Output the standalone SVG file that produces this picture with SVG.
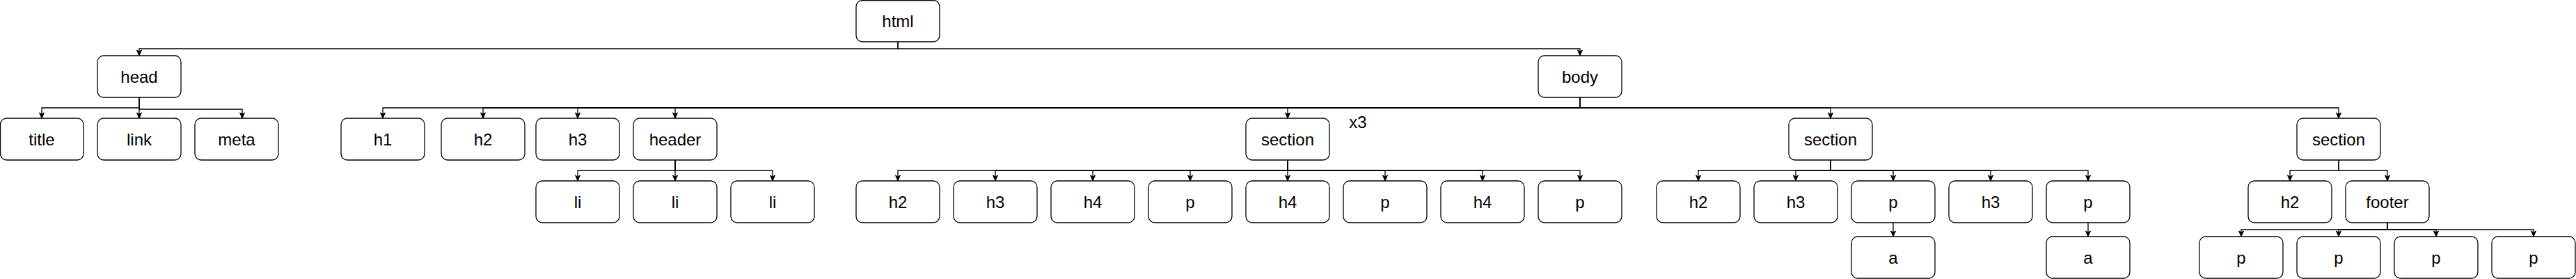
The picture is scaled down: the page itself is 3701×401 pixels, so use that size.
<svg xmlns="http://www.w3.org/2000/svg" width="3701" height="401" viewBox="0 0 3701 401">
<style>
.n rect{fill:#fff;stroke:#000;stroke-width:1.3}
.n text,.t{font-family:"Liberation Sans",Arial,sans-serif;font-size:24px;fill:#000;text-anchor:middle}
#edges path{fill:none;stroke:#000;stroke-width:1.3;marker-end:url(#arr)}
</style>
<defs>
<marker id="arr" viewBox="-9 -5 10 10" refX="0" refY="0" markerWidth="10" markerHeight="10" markerUnits="userSpaceOnUse" orient="auto">
<path d="M0,0 L-8,-3.5 L-6,0 L-8,3.5 Z" fill="#000" stroke="#000" stroke-width="1"/>
</marker>
</defs>
<rect width="3701" height="401" fill="#fff"/>
<g id="edges">
<path d="M1290,60 V70 H200 V80"/>
<path d="M1290,60 V70 H2270 V80"/>
<path d="M200,140 V155 H60 V170"/>
<path d="M200,140 V170"/>
<path d="M200,140 V157 H348 V170"/>
<path d="M2270,140 V155 H550 V170"/>
<path d="M2270,140 V155 H694 V170"/>
<path d="M2270,140 V155 H830 V170"/>
<path d="M2270,140 V155 H970 V170"/>
<path d="M2270,140 V155 H1850 V170"/>
<path d="M2270,140 V155 H2630 V170"/>
<path d="M2270,140 V155 H3360 V170"/>
<path d="M970,230 V245 H830 V260"/>
<path d="M970,230 V260"/>
<path d="M970,230 V245 H1110 V260"/>
<path d="M1850,230 V245 H1290 V260"/>
<path d="M1850,230 V245 H1430 V260"/>
<path d="M1850,230 V245 H1570 V260"/>
<path d="M1850,230 V245 H1710 V260"/>
<path d="M1850,230 V260"/>
<path d="M1850,230 V245 H1990 V260"/>
<path d="M1850,230 V245 H2130 V260"/>
<path d="M1850,230 V245 H2270 V260"/>
<path d="M2630,230 V245 H2440 V260"/>
<path d="M2630,230 V245 H2580 V260"/>
<path d="M2630,230 V245 H2720 V260"/>
<path d="M2630,230 V245 H2860 V260"/>
<path d="M2630,230 V245 H3000 V260"/>
<path d="M2720,320 V340"/>
<path d="M3000,320 V340"/>
<path d="M3360,230 V245 H3290 V260"/>
<path d="M3360,230 V245 H3430 V260"/>
<path d="M3430,320 V330 H3220 V340"/>
<path d="M3430,320 V330 H3360 V340"/>
<path d="M3430,320 V330 H3500 V340"/>
<path d="M3430,320 V330 H3640 V340"/>
</g>
<g id="html" class="n"><rect x="1230" y="0.5" width="120" height="59.5" rx="9"/><text x="1290" y="38.5">html</text></g>
<g id="head" class="n"><rect x="140" y="80" width="120" height="60" rx="9"/><text x="200" y="118.5">head</text></g>
<g id="body" class="n"><rect x="2210" y="80" width="120" height="60" rx="9"/><text x="2270" y="118.5">body</text></g>
<g id="title" class="n"><rect x="0.5" y="170" width="119.5" height="60" rx="9"/><text x="60" y="208.5">title</text></g>
<g id="link" class="n"><rect x="140" y="170" width="120" height="60" rx="9"/><text x="200" y="208.5">link</text></g>
<g id="meta" class="n"><rect x="280" y="170" width="120" height="60" rx="9"/><text x="340" y="208.5">meta</text></g>
<g id="h1" class="n"><rect x="490" y="170" width="120" height="60" rx="9"/><text x="550" y="208.5">h1</text></g>
<g id="h2" class="n"><rect x="634" y="170" width="120" height="60" rx="9"/><text x="694" y="208.5">h2</text></g>
<g id="h3" class="n"><rect x="770" y="170" width="120" height="60" rx="9"/><text x="830" y="208.5">h3</text></g>
<g id="header" class="n"><rect x="910" y="170" width="120" height="60" rx="9"/><text x="970" y="208.5">header</text></g>
<g id="li1" class="n"><rect x="770" y="260" width="120" height="60" rx="9"/><text x="830" y="298.5">li</text></g>
<g id="li2" class="n"><rect x="910" y="260" width="120" height="60" rx="9"/><text x="970" y="298.5">li</text></g>
<g id="li3" class="n"><rect x="1050" y="260" width="120" height="60" rx="9"/><text x="1110" y="298.5">li</text></g>
<g id="section1" class="n"><rect x="1790" y="170" width="120" height="60" rx="9"/><text x="1850" y="208.5">section</text></g>
<text id="x3" class="t" x="1951" y="184">x3</text>
<g id="s1-h2" class="n"><rect x="1230" y="260" width="120" height="60" rx="9"/><text x="1290" y="298.5">h2</text></g>
<g id="s1-h3" class="n"><rect x="1370" y="260" width="120" height="60" rx="9"/><text x="1430" y="298.5">h3</text></g>
<g id="s1-h4a" class="n"><rect x="1510" y="260" width="120" height="60" rx="9"/><text x="1570" y="298.5">h4</text></g>
<g id="s1-pa" class="n"><rect x="1650" y="260" width="120" height="60" rx="9"/><text x="1710" y="298.5">p</text></g>
<g id="s1-h4b" class="n"><rect x="1790" y="260" width="120" height="60" rx="9"/><text x="1850" y="298.5">h4</text></g>
<g id="s1-pb" class="n"><rect x="1930" y="260" width="120" height="60" rx="9"/><text x="1990" y="298.5">p</text></g>
<g id="s1-h4c" class="n"><rect x="2070" y="260" width="120" height="60" rx="9"/><text x="2130" y="298.5">h4</text></g>
<g id="s1-pc" class="n"><rect x="2210" y="260" width="120" height="60" rx="9"/><text x="2270" y="298.5">p</text></g>
<g id="section2" class="n"><rect x="2570" y="170" width="120" height="60" rx="9"/><text x="2630" y="208.5">section</text></g>
<g id="s2-h2" class="n"><rect x="2380" y="260" width="120" height="60" rx="9"/><text x="2440" y="298.5">h2</text></g>
<g id="s2-h3a" class="n"><rect x="2520" y="260" width="120" height="60" rx="9"/><text x="2580" y="298.5">h3</text></g>
<g id="s2-pa" class="n"><rect x="2660" y="260" width="120" height="60" rx="9"/><text x="2720" y="298.5">p</text></g>
<g id="s2-h3b" class="n"><rect x="2800" y="260" width="120" height="60" rx="9"/><text x="2860" y="298.5">h3</text></g>
<g id="s2-pb" class="n"><rect x="2940" y="260" width="120" height="60" rx="9"/><text x="3000" y="298.5">p</text></g>
<g id="s2-aa" class="n"><rect x="2660" y="340" width="120" height="60" rx="9"/><text x="2720" y="378.5">a</text></g>
<g id="s2-ab" class="n"><rect x="2940" y="340" width="120" height="60" rx="9"/><text x="3000" y="378.5">a</text></g>
<g id="section3" class="n"><rect x="3300" y="170" width="120" height="60" rx="9"/><text x="3360" y="208.5">section</text></g>
<g id="s3-h2" class="n"><rect x="3230" y="260" width="120" height="60" rx="9"/><text x="3290" y="298.5">h2</text></g>
<g id="footer" class="n"><rect x="3370" y="260" width="120" height="60" rx="9"/><text x="3430" y="298.5">footer</text></g>
<g id="f-p1" class="n"><rect x="3160" y="340" width="120" height="60" rx="9"/><text x="3220" y="378.5">p</text></g>
<g id="f-p2" class="n"><rect x="3300" y="340" width="120" height="60" rx="9"/><text x="3360" y="378.5">p</text></g>
<g id="f-p3" class="n"><rect x="3440" y="340" width="120" height="60" rx="9"/><text x="3500" y="378.5">p</text></g>
<g id="f-p4" class="n"><rect x="3580" y="340" width="120" height="60" rx="9"/><text x="3640" y="378.5">p</text></g>
</svg>
